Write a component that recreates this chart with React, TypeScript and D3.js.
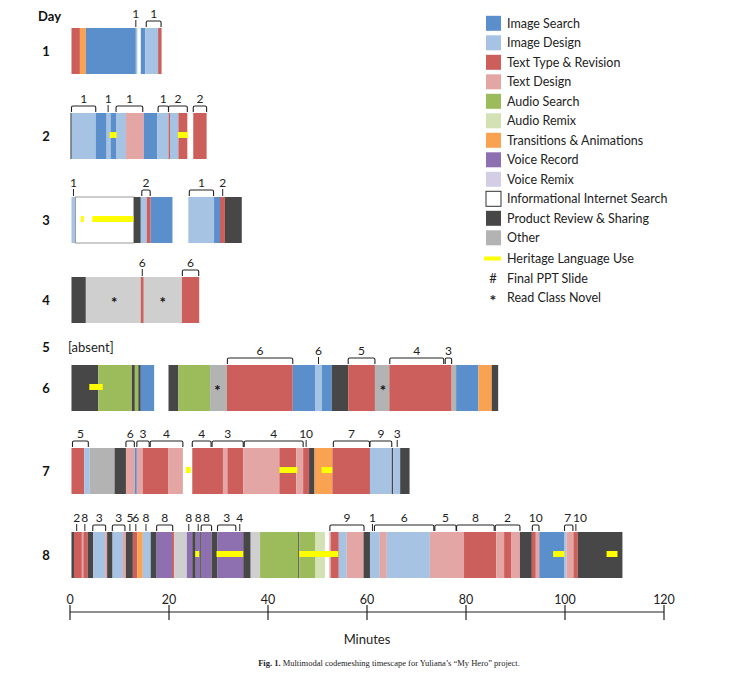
import React from 'react';
import * as d3 from 'd3';

type Seg = [number, number, string];
type Br = [number, number, string, number?];
type Span = [number, number];

const categoryKeys = ['IS', 'ID', 'TT', 'TD', 'AS', 'AR', 'TA', 'VR', 'VX', 'IN', 'PR', 'OT'];
const categoryLabels = [
  'Image Search', 'Image Design', 'Text Type & Revision', 'Text Design', 'Audio Search',
  'Audio Remix', 'Transitions & Animations', 'Voice Record', 'Voice Remix',
  'Informational Internet Search', 'Product Review & Sharing', 'Other',
];
const categoryColors = ['#5b8fcb', '#a7c3e3', '#cc5f5b', '#e3a6a4', '#9cbb5a', '#d2e2b4', '#f8a252', '#8e70b1', '#d3cde5', '#ffffff', '#474747', '#b3b3b3'];
const lightOtherColor = '#cfcfcf';

const xTicks = [0, 20, 40, 60, 80, 100, 120];

// Day 1
const day1Segments: Seg[] = [[0.3, 2.0, 'TT'], [2.0, 3.2, 'TA'], [3.2, 13.3, 'IS'], [13.3, 13.6, 'ID'], [14.3, 15.2, 'IS'], [15.2, 17.8, 'ID'], [17.8, 18.5, 'TT']];
const day1Brackets: Br[] = [[13.3, 13.3, '1'], [15.4, 18.4, '1']];
const day1Heritage: Span[] = [];
const day1Novel: number[] = [];

// Day 2
const day2Segments: Seg[] = [[0.1, 5.2, 'ID'], [0.1, 0.3, 'PR'], [5.2, 7.4, 'IS'], [7.4, 8.2, 'ID'], [8.2, 9.3, 'IS'], [9.3, 11.3, 'ID'], [11.3, 14.9, 'TD'], [14.9, 17.6, 'IS'], [17.6, 19.9, 'ID'], [19.9, 20.2, 'TT'], [20.2, 21.9, 'ID'], [21.9, 23.7, 'TT'], [24.9, 27.6, 'TT']];
const day2Brackets: Br[] = [[0.3, 5.2, '1'], [7.7, 7.7, '1'], [9.3, 14.7, '1'], [17.8, 19.9, '1'], [19.9, 23.7, '2'], [24.9, 27.6, '2']];
const day2Heritage: Span[] = [[8.0, 9.4], [21.8, 23.8]];
const day2Novel: number[] = [];

// Day 3
const day3Segments: Seg[] = [[0.3, 1.1, 'ID'], [1.1, 12.9, 'IN'], [12.9, 14.3, 'PR'], [14.3, 15.5, 'ID'], [15.5, 16.3, 'TT'], [16.3, 20.7, 'IS'], [23.9, 29.1, 'ID'], [29.1, 30.3, 'IS'], [30.3, 31.3, 'TT'], [31.3, 34.7, 'PR']];
const day3Brackets: Br[] = [[0.7, 0.7, '1'], [14.5, 16.2, '2'], [24.1, 29.0, '1'], [30.85, 30.85, '2']];
const day3Heritage: Span[] = [[2.2, 2.8], [4.5, 12.8]];
const day3Novel: number[] = [];

// Day 4
const day4Segments: Seg[] = [[0.3, 3.2, 'PR'], [3.2, 14.3, 'OL'], [14.3, 14.9, 'TT'], [14.9, 22.6, 'OL'], [22.6, 26.1, 'TT']];
const day4Brackets: Br[] = [[14.6, 14.6, '6'], [22.7, 26.0, '6']];
const day4Heritage: Span[] = [];
const day4Novel: number[] = [8.95, 18.7];

// Day 6
const day6Segments: Seg[] = [[0.3, 5.7, 'PR'], [5.7, 12.5, 'AS'], [12.5, 13.1, 'PR'], [13.1, 13.8, 'AS'], [13.8, 14.3, 'PR'], [14.3, 17.0, 'IS'], [19.9, 21.9, 'PR'], [21.9, 28.3, 'AS'], [28.3, 31.7, 'OT'], [31.7, 45.0, 'TT'], [45.0, 49.5, 'IS'], [49.5, 50.9, 'ID'], [50.9, 52.9, 'IS'], [52.9, 56.2, 'PR'], [56.2, 61.6, 'TT'], [61.6, 64.5, 'OT'], [64.5, 77.1, 'TT'], [77.1, 78.0, 'OT'], [78.0, 82.5, 'IS'], [82.5, 85.2, 'TA'], [85.2, 86.5, 'PR']];
const day6Brackets: Br[] = [[31.8, 45.0, '6'], [50.2, 50.2, '6'], [56.2, 61.6, '5'], [64.6, 75.5, '4'], [75.8, 77.1, '3']];
const day6Heritage: Span[] = [[3.9, 6.6]];
const day6Novel: number[] = [29.8, 63.2];

// Day 7
const day7Segments: Seg[] = [[0.3, 2.9, 'TT'], [2.9, 4.0, 'ID'], [4.0, 9.0, 'OT'], [9.0, 11.3, 'PR'], [11.3, 13.1, 'TD'], [13.1, 13.5, 'IS'], [13.5, 14.7, 'TD'], [14.7, 19.9, 'TT'], [19.9, 22.8, 'TD'], [24.7, 30.9, 'TT'], [30.9, 31.8, 'TD'], [31.8, 35.0, 'TT'], [35.0, 42.3, 'TD'], [42.3, 45.7, 'TT'], [45.7, 47.1, 'TD'], [47.1, 48.3, 'TT'], [48.3, 49.4, 'PR'], [49.4, 53.0, 'TA'], [53.0, 60.6, 'TT'], [60.6, 65.0, 'ID'], [65.0, 65.3, 'PR'], [65.3, 66.7, 'ID'], [66.7, 68.6, 'PR']];
const day7Brackets: Br[] = [[0.5, 3.7, '5'], [11.3, 13.0, '6'], [13.5, 16.0, '3'], [16.2, 22.8, '4'], [24.7, 28.5, '4'], [28.7, 35.0, '3'], [35.2, 47.1, '4'], [47.7, 47.7, '10'], [53.2, 60.5, '7'], [60.6, 65.0, '9'], [66.1, 66.1, '3']];
const day7Heritage: Span[] = [[23.4, 24.4], [42.3, 45.9], [50.8, 53.0]];
const day7Novel: number[] = [];

// Day 8
const day8Segments: Seg[] = [[0.3, 0.8, 'PR'], [0.8, 2.4, 'TT'], [2.4, 2.7, 'TD'], [2.7, 3.6, 'TT'], [3.6, 4.7, 'PR'], [4.7, 7.1, 'ID'], [7.1, 7.5, 'TD'], [7.5, 8.6, 'PR'], [8.6, 10.7, 'ID'], [10.7, 11.3, 'TD'], [11.3, 12.7, 'PR'], [12.7, 13.6, 'TT'], [13.6, 14.7, 'TA'], [14.7, 16.3, 'ID'], [16.3, 17.5, 'PR'], [17.5, 20.6, 'VR'], [20.6, 21.0, 'TT'], [21.0, 23.6, 'OL'], [23.6, 24.7, 'VR'], [24.7, 25.4, 'PR'], [25.4, 26.3, 'VR'], [26.3, 26.6, 'PR'], [26.6, 28.6, 'VR'], [28.6, 29.8, 'PR'], [29.8, 35.0, 'VR'], [35.0, 36.5, 'PR'], [36.5, 38.4, 'OL'], [38.4, 46.1, 'AS'], [46.1, 46.3, 'PR'], [46.3, 49.5, 'AS'], [49.5, 51.5, 'AR'], [52.4, 52.7, 'TD'], [52.7, 54.3, 'TT'], [54.3, 55.9, 'ID'], [55.9, 59.3, 'TD'], [59.3, 60.6, 'PR'], [60.6, 62.6, 'ID'], [62.6, 64.0, 'TD'], [64.0, 72.7, 'ID'], [72.7, 79.6, 'TD'], [79.6, 86.1, 'TT'], [86.1, 87.7, 'TD'], [87.7, 89.2, 'TT'], [89.2, 90.9, 'TD'], [90.9, 93.3, 'PR'], [93.3, 94.1, 'TT'], [94.1, 94.8, 'TD'], [94.8, 99.8, 'IS'], [99.8, 100.3, 'ID'], [100.3, 101.7, 'TD'], [101.7, 102.6, 'TT'], [102.6, 111.6, 'PR']];
const day8Brackets: Br[] = [[1.35, 1.35, '2'], [3.0, 3.0, '8'], [4.6, 7.2, '3'], [8.55, 11.1, '3'], [12.1, 12.1, '5'], [13.3, 13.3, '6'], [15.35, 15.35, '8'], [17.5, 20.75, '8'], [24.0, 24.0, '8'], [25.9, 25.9, '8'], [26.5, 28.6, '8'], [29.8, 33.5, '3'], [34.3, 34.3, '4'], [52.5, 59.4, '9'], [61.1, 61.1, '1'], [61.5, 73.5, '6'], [73.7, 78.0, '5'], [78.1, 85.7, '8'], [85.9, 90.9, '2'], [93.4, 94.75, '10'], [99.9, 101.6, '7', -1], [102.2, 102.2, '10', 4]];
const day8Heritage: Span[] = [[25.3, 26.1], [29.6, 35.0], [46.3, 54.2], [97.6, 99.9], [108.4, 110.6]];
const day8Novel: number[] = [];

const days = [
  { label: '1', top: 28, segs: day1Segments, brackets: day1Brackets, heritage: day1Heritage, novel: day1Novel },
  { label: '2', top: 113, segs: day2Segments, brackets: day2Brackets, heritage: day2Heritage, novel: day2Novel },
  { label: '3', top: 197, segs: day3Segments, brackets: day3Brackets, heritage: day3Heritage, novel: day3Novel },
  { label: '4', top: 277, segs: day4Segments, brackets: day4Brackets, heritage: day4Heritage, novel: day4Novel },
  { label: '6', top: 365, segs: day6Segments, brackets: day6Brackets, heritage: day6Heritage, novel: day6Novel },
  { label: '7', top: 448, segs: day7Segments, brackets: day7Brackets, heritage: day7Heritage, novel: day7Novel },
  { label: '8', top: 532, segs: day8Segments, brackets: day8Brackets, heritage: day8Heritage, novel: day8Novel },
];

const FONT = 'Lato, "Open Sans", sans-serif';
const BAR_H = 46;

function colorOf(k: string) {
  if (k === 'OL') return lightOtherColor;
  const i = categoryKeys.indexOf(k);
  return categoryColors[i];
}

export default function App() {
  const x = d3.scaleLinear().domain([0, 120]).range([70, 664]);
  const axisY = 612;

  return (
    <svg width={753} height={673} style={{ position: 'absolute', left: 0, top: 0, background: '#fff' }} fontFamily={FONT}>
      <text x={38} y={21} fontSize={13} fontWeight="bold" fill="#111">Day</text>

      {days.map((d) => {
        const cy = d.top + BAR_H / 2;
        return (
          <g key={d.label}>
            <text x={46} y={cy + 5} fontSize={13} fontWeight="bold" textAnchor="middle" fill="#111">{d.label}</text>
            {d.segs.map((s, i) => (
              <rect key={i} x={x(s[0])} y={d.top} width={Math.max(0.6, x(s[1]) - x(s[0]))} height={BAR_H}
                fill={colorOf(s[2])} stroke={s[2] === 'IN' ? '#9a9a9a' : 'none'} strokeWidth={s[2] === 'IN' ? 1 : 0} />
            ))}
            {d.heritage.map((h, i) => (
              <rect key={'h' + i} x={x(h[0])} y={cy - 4} width={x(h[1]) - x(h[0])} height={6} fill="#ffff00" />
            ))}
            {d.novel.map((n, i) => (
              <text key={'n' + i} x={x(n)} y={cy + 8} fontSize={15} fontWeight="bold" textAnchor="middle" fill="#111">*</text>
            ))}
            {d.brackets.map((b, i) => {
              const y0 = d.top - 7;
              const y1 = d.top - 1;
              const mid = (x(b[0]) + x(b[1])) / 2 + (b[3] || 0);
              return (
                <g key={'b' + i}>
                  {b[0] === b[1] ? (
                    <line x1={x(b[0])} x2={x(b[0])} y1={y0 - 1} y2={y1} stroke="#222" strokeWidth={1} />
                  ) : (
                    <path d={`M${x(b[0])},${y1} V${y0 + 1.5} Q${x(b[0])},${y0} ${x(b[0]) + 1.5},${y0} H${x(b[1]) - 1.5} Q${x(b[1])},${y0} ${x(b[1])},${y0 + 1.5} V${y1}`} fill="none" stroke="#222" strokeWidth={1.1} />
                  )}
                  <text x={mid} y={d.top - 10} fontSize={12} textAnchor="middle" fill="#222">{b[2]}</text>
                </g>
              );
            })}
          </g>
        );
      })}

      <text x={46} y={352} fontSize={13} fontWeight="bold" textAnchor="middle" fill="#111">5</text>
      <text x={68} y={352} fontSize={13} fill="#222">[absent]</text>

      {/* Legend */}
      {categoryLabels.map((lab, i) => {
        const cy = 23.3 + 19.5 * i;
        const k = categoryKeys[i];
        return (
          <g key={lab}>
            <rect x={486} y={cy - 7.5} width={15} height={15} fill={categoryColors[i]}
              stroke={k === 'IN' ? '#333' : 'none'} strokeWidth={k === 'IN' ? 1 : 0} />
            <text x={507} y={cy + 4.5} fontSize={12.5} fill="#222">{lab}</text>
          </g>
        );
      })}
      <rect x={484} y={256.5} width={17} height={4} fill="#ffff00" />
      <text x={507} y={263} fontSize={12.5} fill="#222">Heritage Language Use</text>
      <text x={493} y={283} fontSize={13} textAnchor="middle" fill="#222">#</text>
      <text x={507} y={282.5} fontSize={12.5} fill="#222">Final PPT Slide</text>
      <text x={493} y={306} fontSize={16} fontWeight="bold" textAnchor="middle" fill="#222">*</text>
      <text x={507} y={302} fontSize={12.5} fill="#222">Read Class Novel</text>

      {/* Axis */}
      <line x1={x(0)} x2={x(120)} y1={axisY} y2={axisY} stroke="#222" strokeWidth={1.2} />
      {xTicks.map((t) => (
        <g key={t}>
          <line x1={x(t)} x2={x(t)} y1={axisY - 7} y2={axisY + 8} stroke="#222" strokeWidth={1.2} />
          <text x={x(t)} y={604} fontSize={12.5} textAnchor="middle" fill="#222">{t}</text>
        </g>
      ))}
      <text x={367} y={644} fontSize={13} textAnchor="middle" fill="#222">Minutes</text>

      <text x={389} y={666} fontSize={8.5} textAnchor="middle" fill="#222" fontFamily='"Liberation Serif", serif'>
        <tspan fontWeight="bold">Fig. 1.</tspan> Multimodal codemeshing timescape for Yuliana’s “My Hero” project.
      </text>
    </svg>
  );
}
